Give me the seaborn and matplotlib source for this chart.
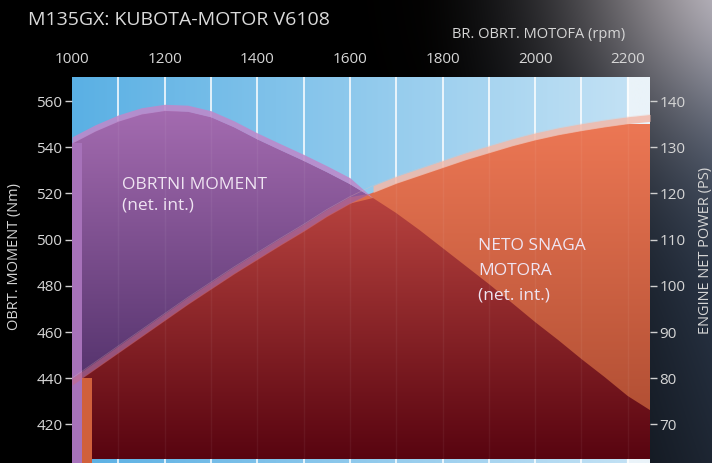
import numpy as np
import matplotlib.pyplot as plt
import seaborn as sns
from matplotlib.colors import to_rgb

# values (every 50 rpm)
rpm = [1000, 1050, 1100, 1150, 1200, 1250, 1300, 1350, 1400, 1450, 1500, 1550, 1600,
       1650, 1700, 1750, 1800, 1850, 1900, 1950, 2000, 2050, 2100, 2150, 2200, 2248]
torque_nm = [541.8, 547.0, 551.3, 554.4, 555.9, 555.5, 553.1, 548.7, 543.5, 538.8, 534.2,
             529.3, 524.1, 518.0, 511.5, 504.2, 496.4, 488.6, 480.8, 472.6, 464.3, 456.5,
             448.3, 440.5, 432.3, 426.2]
power_ps = [78.5, 82.0, 85.5, 89.0, 92.5, 96.0, 99.3, 102.6, 105.7, 108.8, 111.8, 115.0,
            117.8, 120.2, 122.2, 123.9, 125.6, 127.3, 128.8, 130.3, 131.6, 132.7, 133.6,
            134.4, 135.1, 135.6]

rpm_ticks = [1000, 1200, 1400, 1600, 1800, 2000, 2200]
grid_rpm = [1100, 1200, 1300, 1400, 1500, 1600, 1700, 1800, 1900, 2000, 2100, 2200]
nm_ticks = [420, 440, 460, 480, 500, 520, 540, 560]
ps_ticks = [70, 80, 90, 100, 110, 120, 130, 140]

W, H = 712, 463
NM_LIM = (403.3, 570.4)
RPM_LIM = (1000, 2248)

sns.set_style('white')
plt.rcParams['font.family'] = ['Open Sans', 'DejaVu Sans']

fig = plt.figure(figsize=(W / 100, H / 100), dpi=100)
fig.patch.set_facecolor('black')


def fx(px):
    return px / W


def fy(py):
    return 1 - py / H


# dark background with a slate tint on the right and a glow in the corner
bg = fig.add_axes([0, 0, 1, 1], zorder=-10)
yy, xx = np.mgrid[0:H, 0:W]
img = np.zeros((H, W, 3))
t = np.clip((xx - 420) / 292, 0, 1) ** 1.4
v = 1 - 0.45 * (yy / H)
img += (t * v)[..., None] * np.array([0.21, 0.27, 0.36])
d = np.hypot(xx - 740, yy + 40)
img += np.exp(-(d / 170) ** 2)[..., None] * np.array([0.52, 0.44, 0.38])
bg.imshow(np.clip(img, 0, 1), extent=[0, W, H, 0], aspect='auto')
bg.axis('off')

ax = fig.add_axes([fx(72), 0, (650 - 72) / W, (463 - 77) / H])
x = np.array(rpm, dtype=float)
tq = np.array(torque_nm, dtype=float)
pw = (np.array(power_ps, dtype=float) + 140) * 2   # power on torque scale
ybot = NM_LIM[0] - 5


def vgrad(top, bottom, y_top, y_bot, path, z):
    f = np.linspace(0, 1, 256)[:, None]
    c0, c1 = np.array(to_rgb(top)), np.array(to_rgb(bottom))
    arr = (c0 * (1 - f) + c1 * f)[:, None, :]
    im = ax.imshow(arr, extent=[RPM_LIM[0], RPM_LIM[1], y_bot, y_top],
                   aspect='auto', origin='upper', zorder=z, interpolation='bilinear')
    im.set_clip_path(path, ax.transData)
    return im


# sky blue back wall
cols = np.linspace(0, 1, 400)
c0, c1 = np.array(to_rgb('#5AB0E4')), np.array(to_rgb('#C6E3F5'))
wall = c0 * (1 - cols[:, None]) + c1 * cols[:, None]
xs = np.linspace(RPM_LIM[0], RPM_LIM[1], 400)
wall[xs > 2200] = to_rgb('#EAF3F9')
ax.imshow(wall[None, :, :], extent=[RPM_LIM[0], RPM_LIM[1], NM_LIM[0], NM_LIM[1]],
          aspect='auto', zorder=0)
for g in grid_rpm:
    ax.axvline(g, color='white', lw=1.3, alpha=0.85, zorder=1)

# areas
p_tq = ax.fill_between(x, ybot, tq, facecolor='none', edgecolor='none').get_paths()[0]
p_pw = ax.fill_between(x, ybot, pw, facecolor='none', edgecolor='none').get_paths()[0]
p_ov = ax.fill_between(x, ybot, np.minimum(tq, pw), facecolor='none', edgecolor='none').get_paths()[0]
vgrad('#A56CB1', '#4F2F68', 558, 430, p_tq, 2)
vgrad('#EC7754', '#A9492F', 550, 405, p_pw, 3)
vgrad('#BE4742', '#580410', 525, 405, p_ov, 4)

# side faces at the left end
side = 22
ax.fill_between([rpm[0], rpm[0] + side], ybot, tq[0], color='#A772BA', lw=0, zorder=5)
ax.fill_between([rpm[0] + side, rpm[0] + 2 * side], ybot, np.interp(rpm[0] + side, x, pw),
                color='#D0603C', lw=0, zorder=5)

# faint grid over the areas
for g in grid_rpm:
    ax.axvline(g, color='white', lw=1.0, alpha=0.05, zorder=5)

# light top faces of the curves
ax.fill_between(x, tq, tq + 2.7, where=tq >= pw, interpolate=True,
                color='#BC8ACB', alpha=0.9, lw=0, zorder=6)
ax.fill_between(x, pw, pw + 3.0, where=pw <= tq, interpolate=True,
                color='#C86A84', alpha=0.55, lw=0, zorder=6)
ax.fill_between(x, pw, pw + 3.0, where=pw >= tq, interpolate=True,
                color='#F3B9A9', alpha=0.85, lw=0, zorder=6)
sns.lineplot(x=x, y=pw + 3.0, ax=ax, color='#F3C3B5', lw=0.5, alpha=0.3, zorder=7)

ax.set_xlim(*RPM_LIM)
ax.set_ylim(*NM_LIM)
for s in ax.spines.values():
    s.set_visible(False)

txt = '#D6D6D6'
ax.xaxis.tick_top()
ax.set_xticks(rpm_ticks)
ax.set_xticklabels([str(r) for r in rpm_ticks])
ax.tick_params(axis='x', length=0, pad=7, labelsize=11, labelcolor=txt)
ax.set_yticks(nm_ticks)
ax.tick_params(axis='y', length=5, width=1, color='#CFCFCF', pad=2,
               labelsize=11, labelcolor=txt, left=True)

ax2 = ax.twinx()
ax2.set_ylim(NM_LIM[0] / 2 - 140, NM_LIM[1] / 2 - 140)
ax2.set_yticks(ps_ticks)
ax2.tick_params(axis='y', length=5, width=1, color='#CFCFCF', pad=2,
                labelsize=11, labelcolor=txt, right=True)
for s in ax2.spines.values():
    s.set_visible(False)
ax2.grid(False)
ax.grid(False)

# texts
fig.text(fx(28), fy(20), 'M135GX: KUBOTA-MOTOR V6108', fontsize=14,
         color='#DADADA', va='center', ha='left')
fig.text(fx(539), fy(35), 'BR. OBRT. MOTOFA (rpm)', fontsize=10.5,
         color=txt, va='center', ha='center')
fig.text(fx(15), fy(257), 'OBRT. MOMENT (Nm)', fontsize=10.5, rotation=90,
         color=txt, va='center', ha='center')
fig.text(fx(705), fy(250), 'ENGINE NET POWER (PS)', fontsize=10.5, rotation=90,
         color=txt, va='center', ha='center')

lab = '#EFE4F2'
fig.text(fx(122), fy(185), 'OBRTNI MOMENT', fontsize=12.5, color=lab, va='center')
fig.text(fx(122), fy(205), '(net. int.)', fontsize=12.5, color=lab, va='center')
fig.text(fx(478), fy(246), 'NETO SNAGA', fontsize=12.5, color=lab, va='center')
fig.text(fx(478), fy(271), 'MOTORA', fontsize=12.5, color=lab, va='center')
fig.text(fx(478), fy(296), '(net. int.)', fontsize=12.5, color=lab, va='center')

fig.savefig('out.png', dpi=100, facecolor='black')
